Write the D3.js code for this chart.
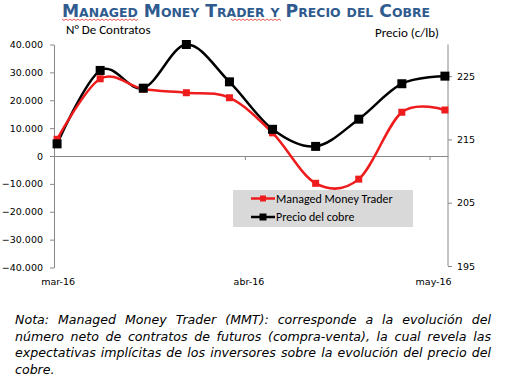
<!DOCTYPE html>
<html>
<head>
<meta charset="utf-8">
<script src="https://cdn.jsdelivr.net/npm/d3@7"></script>
<style>
  body { margin: 0; background: #fff; }
  #wrap { position: relative; width: 505px; height: 386px; overflow: hidden; }
  #nota {
    position: absolute; left: 15px; top: 312px; width: 476px;
    font-family: "DejaVu Sans", Verdana, sans-serif; font-style: italic;
    font-size: 12.6px; line-height: 16.5px; text-align: justify; color: #000;
  }
</style>
</head>
<body>
<div id="wrap">
  <svg id="chart" width="505" height="310"></svg>
  <div id="nota">Nota: Managed Money Trader (MMT): corresponde a la evolución del número neto de contratos de futuros (compra-venta), la cual revela las expectativas implícitas de los inversores sobre la evolución del precio del cobre.</div>
</div>
<script>
// fechas semanales (martes)
const fechas = ["2016-03-01", "2016-03-08", "2016-03-15", "2016-03-22", "2016-03-29",
  "2016-04-05", "2016-04-12", "2016-04-19", "2016-04-26", "2016-05-03"];
const mmt = [6000, 27700, 24000, 22700, 20900, 8300, -9800, -8300, 15700, 16500];
const precioCobre = [214.3, 225.9, 223.1, 230.0, 224.1, 216.6, 213.9, 218.2, 223.8, 225.0];
const ticksIzq = [40000, 30000, 20000, 10000, 0, -10000, -20000, -30000, -40000];
const ticksDer = [225, 215, 205, 195];
const meses = ["2016-03-01", "2016-04-01", "2016-05-01"];
const etiquetasMeses = ["mar-16", "abr-16", "may-16"];

const parse = d3.utcParse("%Y-%m-%d");
const svg = d3.select("#chart");
const mLeft = 54, mRight = 448, mTop = 44.5, mBottom = 267.5;

const x = d3.scaleUtc()
  .domain([parse("2016-03-01"), parse("2016-05-04")])
  .range([mLeft, mRight]);
const yL = d3.scaleLinear().domain([-40000, 40000]).range([mBottom, mTop]);
const yR = d3.scaleLinear().domain([195, 230]).range([mBottom - 1.5, mTop]);

const mid = (d) => x(d3.utcHour.offset(parse(d), 12));

// titulo
svg.append("text")
  .attr("x", 62).attr("y", 17)
  .attr("textLength", 368).attr("lengthAdjust", "spacingAndGlyphs")
  .style("font-family", "'DejaVu Sans', Verdana, sans-serif")
  .style("font-weight", "bold")
  .style("font-variant", "small-caps")
  .style("font-size", "18px")
  .style("fill", "#2f5b8f")
  .text("Managed Money Trader y Precio del Cobre");

// subrayado ortografico
[[62, 140], [231, 282]].forEach(([a, b]) => {
  const pts = d3.range(a, b, 2).map((v, i) => [v, 19.5 + (i % 2 ? 1 : -0.5)]);
  svg.append("path").attr("d", d3.line()(pts))
    .attr("fill", "none").attr("stroke", "#e03030").attr("stroke-width", 0.8);
});

const font = "'DejaVu Sans', Verdana, sans-serif";
const fontSans = "Calibri, 'Liberation Sans', 'Open Sans', sans-serif";

svg.append("text").attr("x", 66).attr("y", 34)
  .style("font-family", fontSans)
  .style("font-size", "13px").text("N° De Contratos");
svg.append("text").attr("x", 375).attr("y", 37)
  .style("font-family", fontSans)
  .style("font-size", "13px").text("Precio (c/lb)");

const axisColor = "#888";

// eje izquierdo
const gL = svg.append("g").attr("transform", `translate(${mLeft},0)`)
  .call(d3.axisLeft(yL).tickValues(ticksIzq).tickSize(4).tickSizeOuter(0)
    .tickFormat((d) => d3.format(",")(d).replace(/,/g, ".")));
gL.select(".domain").attr("stroke", axisColor);
gL.selectAll(".tick line").attr("stroke", axisColor);
gL.selectAll(".tick text").attr("x", -11)
  .style("font-family", font).style("font-size", "9.5px").attr("fill", "#000");

// eje derecho
const gR = svg.append("g").attr("transform", `translate(${mRight},0)`)
  .call(d3.axisRight(yR).tickValues(ticksDer).tickSize(4).tickSizeOuter(0));
gR.select(".domain").attr("stroke", axisColor).attr("d", `M0,${mTop}V${mBottom - 1.5}`);
gR.selectAll(".tick line").attr("stroke", axisColor);
gR.selectAll(".tick text").attr("x", 9)
  .style("font-family", font).style("font-size", "9.5px").attr("fill", "#000");

// eje x en el cero
const gX = svg.append("g").attr("transform", `translate(0,${yL(0)})`)
  .call(d3.axisBottom(x).tickValues(meses.map(parse)).tickSize(4).tickSizeOuter(0).tickFormat(""));
gX.select(".domain").attr("stroke", axisColor);
gX.selectAll(".tick line").attr("stroke", axisColor);

svg.selectAll(".mes").data(meses).enter().append("text")
  .attr("class", "mes")
  .attr("x", (d) => mid(d) + 1).attr("y", 285)
  .attr("text-anchor", "middle")
  .style("font-family", font).style("font-size", "9.5px")
  .text((d, i) => etiquetasMeses[i]);

const curve = d3.curveCardinal.tension(0);

// linea precio cobre
svg.append("path")
  .attr("d", d3.line().x((d, i) => mid(fechas[i])).y((d) => yR(d)).curve(curve)(precioCobre))
  .attr("fill", "none").attr("stroke", "#000").attr("stroke-width", 2.5);

// linea MMT
svg.append("path")
  .attr("d", d3.line().x((d, i) => mid(fechas[i])).y((d) => yL(d)).curve(curve)(mmt))
  .attr("fill", "none").attr("stroke", "#ee1c1c").attr("stroke-width", 2.5);

svg.selectAll(".mk-mmt").data(mmt).enter().append("rect")
  .attr("class", "mk-mmt")
  .attr("x", (d, i) => mid(fechas[i]) - 3.5).attr("y", (d) => yL(d) - 3.5)
  .attr("width", 7).attr("height", 7).attr("fill", "#ee1c1c");

svg.selectAll(".mk-cobre").data(precioCobre).enter().append("rect")
  .attr("class", "mk-cobre")
  .attr("x", (d, i) => mid(fechas[i]) - 4.5).attr("y", (d) => yR(d) - 4.5)
  .attr("width", 9).attr("height", 9).attr("fill", "#000");

// leyenda
const leg = svg.append("g").attr("transform", "translate(233,190)");
leg.append("rect").attr("width", 180).attr("height", 37).attr("fill", "#d9d9d9");
const series = [
  { name: "Managed Money Trader", color: "#ee1c1c", size: 6 },
  { name: "Precio del cobre", color: "#000", size: 7 }
];
series.forEach((s, i) => {
  const cy = 8.5 + i * 18.5;
  leg.append("line").attr("x1", 18).attr("x2", 42).attr("y1", cy).attr("y2", cy)
    .attr("stroke", s.color).attr("stroke-width", 2.5);
  leg.append("rect").attr("x", 30 - s.size / 2).attr("y", cy - s.size / 2)
    .attr("width", s.size).attr("height", s.size).attr("fill", s.color);
  leg.append("text").attr("x", 43).attr("y", cy + 4)
    .style("font-family", fontSans)
    .style("font-size", "12px").text(s.name);
});
</script>
</body>
</html>
